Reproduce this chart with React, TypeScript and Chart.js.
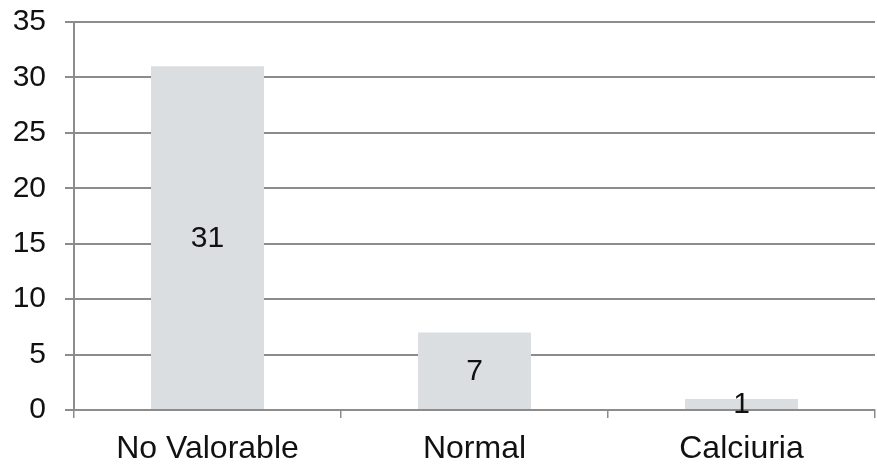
import React, { useEffect, useRef } from "react";
import { Chart, registerables } from "chart.js";

Chart.register(...registerables);

const categories = ["No Valorable", "Normal", "Calciuria"];
const values = [31, 7, 1];
const yTicks = [0, 5, 10, 15, 20, 25, 30, 35];

const FONT = '"Liberation Sans", Arial, sans-serif';
const GRID = "#8c8c8c";

const valueLabels = {
  id: "valueLabels",
  afterDatasetsDraw(chart: any) {
    const { ctx } = chart;
    const meta = chart.getDatasetMeta(0);
    ctx.save();
    ctx.font = `30px ${FONT}`;
    ctx.fillStyle = "#111";
    ctx.textAlign = "center";
    ctx.textBaseline = "middle";
    meta.data.forEach((bar: any, i: number) => {
      const y = (bar.y + bar.base) / 2;
      ctx.fillText(String(values[i]), bar.x, y + 1);
    });
    ctx.restore();
  },
};

export default function App() {
  const ref = useRef<HTMLCanvasElement>(null);
  useEffect(() => {
    document.body.style.margin = "0";
    const chart = new Chart(ref.current!, {
      type: "bar",
      data: {
        labels: categories,
        datasets: [
          {
            data: values,
            backgroundColor: "#dbdee1",
            borderWidth: 0,
            barPercentage: 0.423,
            categoryPercentage: 1,
          },
        ],
      },
      options: {
        animation: false,
        responsive: false,
        maintainAspectRatio: false,
        layout: { padding: { left: 0, top: 22, right: 2, bottom: 0 } },
        plugins: { legend: { display: false }, tooltip: { enabled: false } },
        scales: {
          x: {
            offset: true,
            afterFit: (axis: any) => {
              axis.height = 56;
              axis.paddingLeft = 0;
              axis.paddingRight = 0;
            },
            grid: {
              offset: true,
              drawOnChartArea: false,
              drawTicks: true,
              tickLength: 8,
              color: GRID,
              lineWidth: 1.5,
            },
            border: { display: true, color: GRID, width: 2 },
            ticks: {
              color: "#111",
              font: { family: FONT, size: 32 },
              padding: 12,
            },
          },
          y: {
            min: 0,
            max: 35,
            afterBuildTicks: (axis: any) => {
              axis.ticks = yTicks.map((v) => ({ value: v }));
            },
            afterFit: (axis: any) => {
              axis.width = 74;
              axis.paddingTop = 0;
              axis.paddingBottom = 0;
            },
            grid: {
              color: GRID,
              lineWidth: 2,
              drawTicks: true,
              tickLength: 9,
            },
            border: { display: true, color: GRID, width: 2 },
            ticks: {
              color: "#111",
              font: { family: FONT, size: 30 },
              padding: 19,
            },
          },
        },
      },
      plugins: [valueLabels],
    });
    return () => chart.destroy();
  }, []);
  return (
    <div style={{ position: "absolute", left: 0, top: 0, width: 877, height: 466 }}>
      <canvas ref={ref} width={877} height={466} />
    </div>
  );
}
